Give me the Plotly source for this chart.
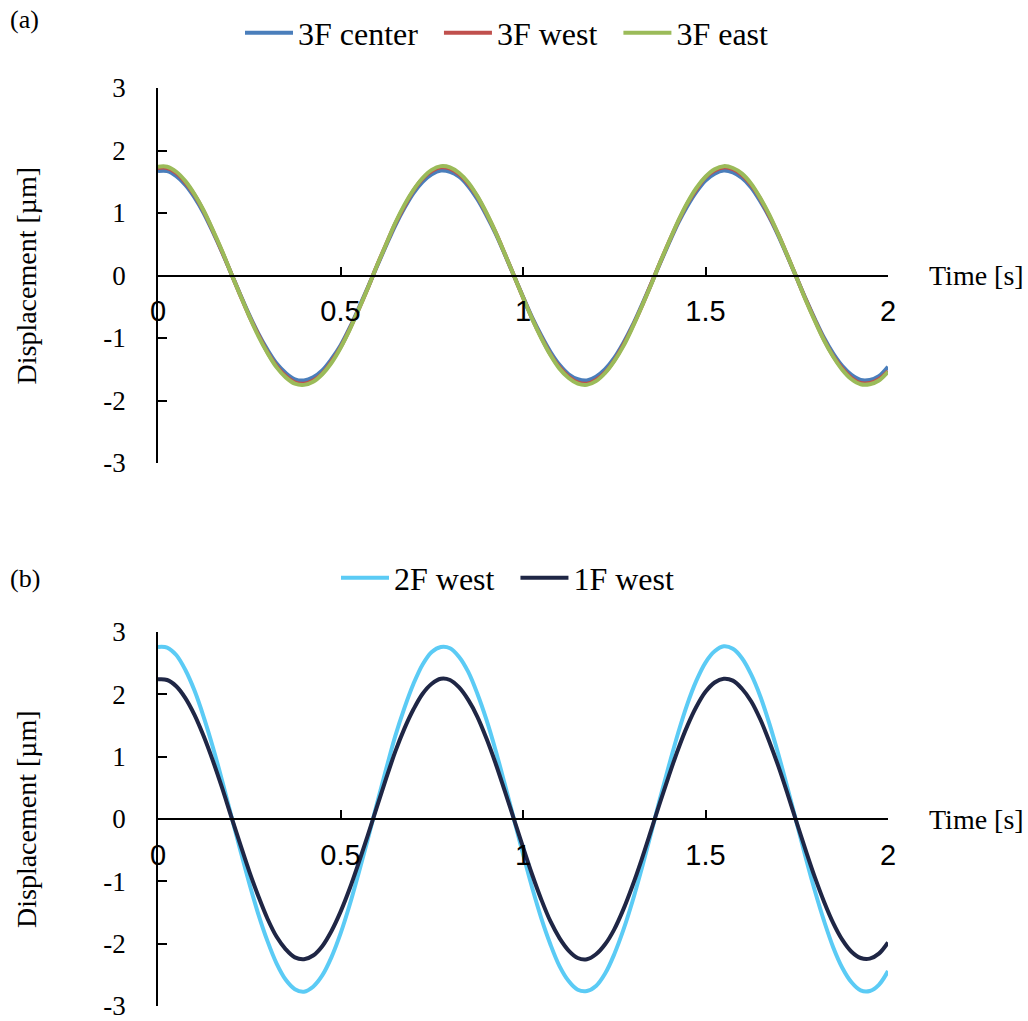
import plotly.graph_objects as go

time_s = [round(i * 0.025, 3) for i in range(81)]

f3_center = [1.67, 1.67, 1.59, 1.45, 1.25, 1.00, 0.70, 0.38, 0.04, -0.30,
             -0.63, -0.93, -1.19, -1.41, -1.56, -1.66, -1.68, -1.63, -1.52, -1.34,
             -1.12, -0.84, -0.52, -0.19, 0.15, 0.48, 0.80, 1.08, 1.32, 1.50,
             1.62, 1.68, 1.66, 1.58, 1.43, 1.22, 0.96, 0.67, 0.34, 0.00,
             -0.34, -0.67, -0.96, -1.22, -1.43, -1.58, -1.66, -1.68, -1.62, -1.50,
             -1.32, -1.08, -0.80, -0.48, -0.15, 0.19, 0.52, 0.84, 1.11, 1.34,
             1.52, 1.63, 1.68, 1.65, 1.56, 1.41, 1.19, 0.93, 0.63, 0.30,
             -0.04, -0.38, -0.70, -1.00, -1.25, -1.45, -1.59, -1.67, -1.67, -1.61,
             -1.46]
f3_west = [1.72, 1.72, 1.64, 1.49, 1.29, 1.03, 0.72, 0.39, 0.04, -0.31,
           -0.65, -0.95, -1.23, -1.45, -1.61, -1.71, -1.73, -1.68, -1.57, -1.38,
           -1.15, -0.86, -0.54, -0.20, 0.16, 0.50, 0.83, 1.11, 1.36, 1.55,
           1.67, 1.73, 1.71, 1.62, 1.47, 1.26, 0.99, 0.69, 0.35, 0.00,
           -0.35, -0.69, -0.99, -1.26, -1.47, -1.62, -1.71, -1.73, -1.67, -1.55,
           -1.36, -1.11, -0.82, -0.50, -0.15, 0.20, 0.54, 0.86, 1.15, 1.38,
           1.57, 1.68, 1.73, 1.70, 1.61, 1.45, 1.23, 0.95, 0.65, 0.31,
           -0.04, -0.39, -0.72, -1.03, -1.29, -1.49, -1.64, -1.72, -1.72, -1.66,
           -1.53]
f3_east = [1.74, 1.74, 1.66, 1.51, 1.30, 1.04, 0.73, 0.40, 0.04, -0.31,
           -0.65, -0.97, -1.24, -1.47, -1.63, -1.73, -1.75, -1.70, -1.58, -1.40,
           -1.16, -0.87, -0.54, -0.20, 0.16, 0.50, 0.84, 1.13, 1.37, 1.56,
           1.69, 1.75, 1.73, 1.64, 1.49, 1.27, 1.00, 0.69, 0.35, 0.00,
           -0.35, -0.69, -1.00, -1.27, -1.49, -1.64, -1.73, -1.75, -1.69, -1.56,
           -1.37, -1.13, -0.83, -0.50, -0.16, 0.20, 0.54, 0.87, 1.16, 1.40,
           1.58, 1.70, 1.75, 1.72, 1.63, 1.47, 1.24, 0.97, 0.65, 0.31,
           -0.04, -0.40, -0.73, -1.04, -1.30, -1.51, -1.66, -1.74, -1.74, -1.68,
           -1.54]
f2_west = [2.76, 2.75, 2.63, 2.39, 2.06, 1.64, 1.16, 0.63, 0.07, -0.49,
           -1.03, -1.53, -1.96, -2.32, -2.58, -2.73, -2.77, -2.69, -2.51, -2.22,
           -1.84, -1.38, -0.86, -0.32, 0.25, 0.80, 1.33, 1.78, 2.17, 2.48,
           2.68, 2.76, 2.74, 2.60, 2.36, 2.01, 1.59, 1.10, 0.56, 0.00,
           -0.56, -1.10, -1.59, -2.01, -2.36, -2.60, -2.74, -2.76, -2.68, -2.48,
           -2.17, -1.78, -1.32, -0.80, -0.25, 0.32, 0.86, 1.38, 1.84, 2.22,
           2.51, 2.69, 2.77, 2.73, 2.58, 2.32, 1.97, 1.53, 1.03, 0.49,
           -0.07, -0.63, -1.16, -1.64, -2.06, -2.39, -2.62, -2.75, -2.76, -2.66,
           -2.44]
f1_west = [2.24, 2.23, 2.13, 1.94, 1.67, 1.33, 0.94, 0.51, 0.05, -0.40,
           -0.84, -1.24, -1.60, -1.89, -2.09, -2.22, -2.25, -2.19, -2.04, -1.80,
           -1.49, -1.12, -0.70, -0.26, 0.20, 0.65, 1.08, 1.45, 1.76, 2.01,
           2.17, 2.25, 2.23, 2.11, 1.91, 1.64, 1.29, 0.89, 0.45, 0.00,
           -0.45, -0.89, -1.29, -1.64, -1.91, -2.11, -2.23, -2.25, -2.17, -2.01,
           -1.77, -1.45, -1.07, -0.65, -0.20, 0.26, 0.70, 1.12, 1.49, 1.80,
           2.04, 2.19, 2.25, 2.22, 2.09, 1.89, 1.60, 1.24, 0.84, 0.40,
           -0.06, -0.51, -0.94, -1.33, -1.67, -1.94, -2.13, -2.23, -2.24, -2.16,
           -1.98]

x_ticks = [0, 0.5, 1, 1.5, 2]
x_tick_text = ["0", "0.5", "1", "1.5", "2"]
y_ticks = [-3, -2, -1, 0, 1, 2, 3]
y_tick_text = ["-3", "-2", "-1", "0", "1", "2", "3"]

SERIF = "Liberation Serif, Times New Roman, serif"
SANS = "Liberation Sans, Arial, sans-serif"

W, H = 1028, 1021
x_dom = [158 / W, 888 / W]
top_dom = [1 - 463 / H, 1 - 88 / H]
bot_dom = [1 - 1006 / H, 1 - 632 / H]

fig = go.Figure()

PAD = "\u00a0\u00a0"
top_series = [("3F center" + PAD, f3_center, "#4A7EBB"),
              ("3F west" + PAD, f3_west, "#C0504D"),
              ("3F east", f3_east, "#9BBB59")]
for name, vals, col in top_series:
    fig.add_trace(go.Scatter(x=time_s, y=vals, name=name, mode="lines",
                             line=dict(color=col, width=4, shape="spline"),
                             xaxis="x", yaxis="y", legend="legend"))

bot_series = [("2F west" + PAD, f2_west, "#5BCBF5"),
              ("1F west", f1_west, "#1F2645")]
for name, vals, col in bot_series:
    fig.add_trace(go.Scatter(x=time_s, y=vals, name=name, mode="lines",
                             line=dict(color=col, width=4, shape="spline"),
                             xaxis="x2", yaxis="y2", legend="legend2"))


def xaxis_cfg(pos):
    return dict(domain=x_dom, range=[0, 2], anchor="free", position=pos,
                tickvals=x_ticks, ticktext=x_tick_text, ticks="inside", ticklen=8,
                tickwidth=1.5, tickcolor="black", showline=True, linecolor="black",
                linewidth=1.5, showgrid=False, zeroline=False,
                tickfont=dict(family=SANS, size=29, color="black"),
                ticklabelstandoff=10, ticklabeloverflow="allow")


def yaxis_cfg(dom, xa):
    return dict(domain=dom, range=[-3, 3], anchor=xa, tickvals=y_ticks,
                ticktext=y_tick_text, ticks="inside", ticklen=9, tickwidth=1.5,
                tickcolor="black", showline=True, linecolor="black", linewidth=1.5,
                showgrid=False, zeroline=False,
                tickfont=dict(family=SERIF, size=27, color="black"),
                ticklabelstandoff=25, ticklabeloverflow="allow")


top_zero = 1 - 275.5 / H
bot_zero = 1 - 819 / H

legend_common = dict(orientation="h", xanchor="center", yanchor="middle",
                     font=dict(family=SERIF, size=32, color="black"),
                     bgcolor="rgba(0,0,0,0)", itemwidth=48)

fig.update_layout(
    width=W, height=H,
    margin=dict(l=0, r=0, t=0, b=0, autoexpand=False),
    paper_bgcolor="white", plot_bgcolor="white",
    xaxis=xaxis_cfg(top_zero),
    yaxis=yaxis_cfg(top_dom, "x"),
    xaxis2=xaxis_cfg(bot_zero),
    yaxis2=yaxis_cfg(bot_dom, "x2"),
    legend=dict(x=507 / W, y=1 - 33 / H, **legend_common),
    legend2=dict(x=508 / W, y=1 - 578 / H, **legend_common),
    showlegend=True,
)

for txt, yc in [("(a)", 20), ("(b)", 578)]:
    fig.add_annotation(text=txt, x=8 / W, y=1 - yc / H, xref="paper", yref="paper",
                       xanchor="left", yanchor="middle", showarrow=False,
                       font=dict(family=SERIF, size=26, color="black"))

for yc in [275.5, 819]:
    fig.add_annotation(text="Time [s]", x=927 / W, y=1 - yc / H, xref="paper", yref="paper",
                       xanchor="left", yanchor="middle", showarrow=False,
                       font=dict(family=SERIF, size=28, color="black"))
    fig.add_annotation(text="Displacement [µm]", x=26 / W, y=1 - yc / H, xref="paper",
                       yref="paper", xanchor="center", yanchor="middle", textangle=-90,
                       showarrow=False, font=dict(family=SERIF, size=28, color="black"))

fig.write_html("out.html")
